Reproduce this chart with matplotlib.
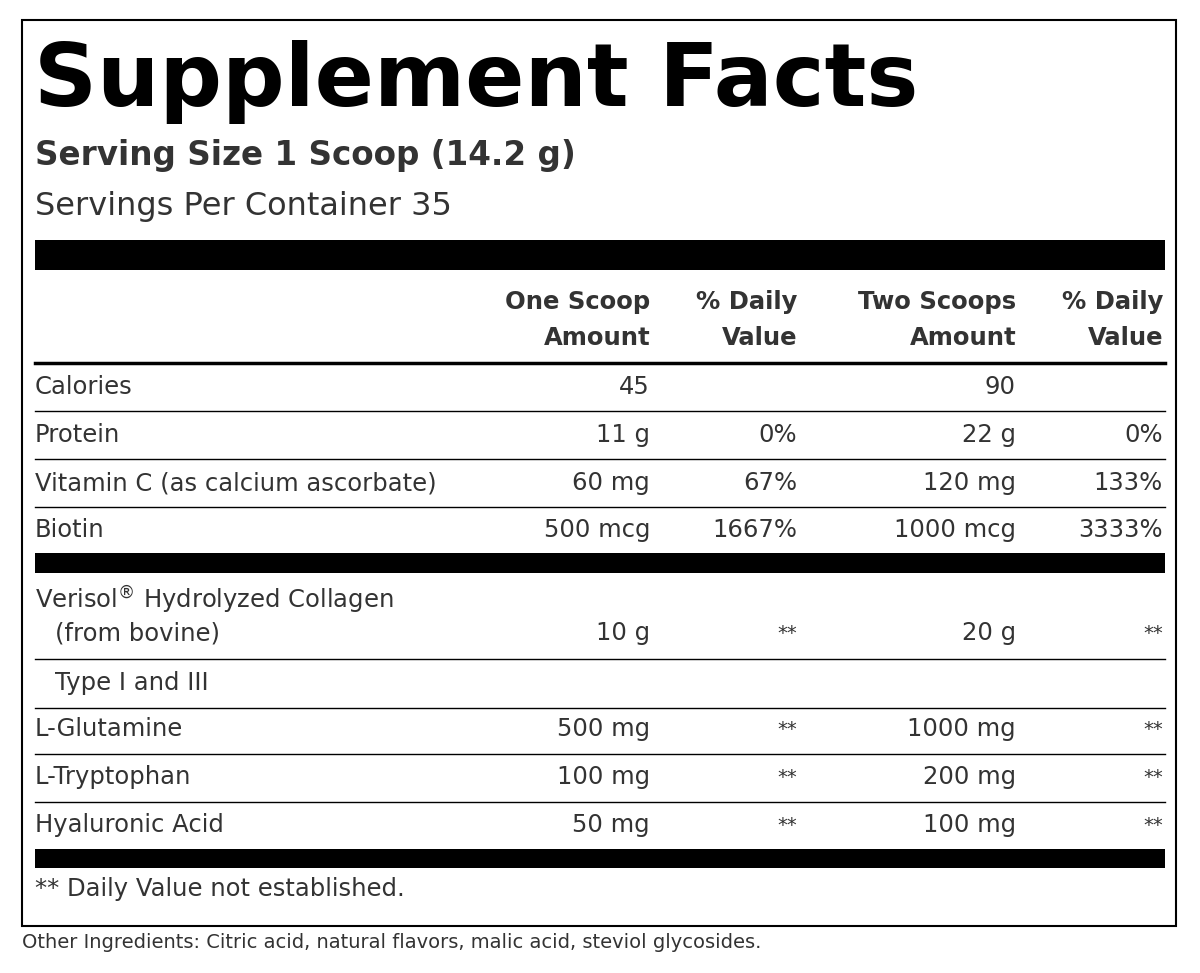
import matplotlib
matplotlib.use("Agg")
import matplotlib.pyplot as plt
from matplotlib.patches import Rectangle

title = "Supplement Facts"
serving_size = "Serving Size 1 Scoop (14.2 g)"
servings = "Servings Per Container 35"
headers = [("One Scoop", "Amount"), ("% Daily", "Value"), ("Two Scoops", "Amount"), ("% Daily", "Value")]
group1_names = ["Calories", "Protein", "Vitamin C (as calcium ascorbate)", "Biotin"]
group1_one = ["45", "11 g", "60 mg", "500 mcg"]
group1_dv1 = ["", "0%", "67%", "1667%"]
group1_two = ["90", "22 g", "120 mg", "1000 mcg"]
group1_dv2 = ["", "0%", "133%", "3333%"]
group2_names = ["(from bovine)", "Type I and III", "L-Glutamine", "L-Tryptophan", "Hyaluronic Acid"]
group2_one = ["10 g", "", "500 mg", "100 mg", "50 mg"]
group2_dv1 = ["**", "", "**", "**", "**"]
group2_two = ["20 g", "", "1000 mg", "200 mg", "100 mg"]
group2_dv2 = ["**", "", "**", "**", "**"]
footnote = "** Daily Value not established."
other = "Other Ingredients: Citric acid, natural flavors, malic acid, steviol glycosides."

plt.rcParams['font.family'] = ['DejaVu Sans']
fig = plt.figure(figsize=(12, 9.73), dpi=100)
ax = fig.add_axes([0, 0, 1, 1])
ax.set_xlim(0, 1200); ax.set_ylim(973, 0); ax.axis('off')
C = '#333333'
fs = 17.5

ax.add_patch(Rectangle((22, 20), 1154, 906, fill=False, lw=1.5, ec='black'))
ax.text(34, 82, title, fontsize=63, weight='bold', color='black', va='center', ha='left')
ax.text(35, 155, serving_size, fontsize=23.5, weight='bold', color=C, va='center')
ax.text(35, 207, servings, fontsize=23, color=C, va='center')

def bar(y0, y1):
    ax.add_patch(Rectangle((35, y0), 1130, y1 - y0, color='black', lw=0))
def hline(y, lw=1.0):
    ax.plot([35, 1165], [y, y], color='black', lw=lw)

bar(240, 270)
cols = [650, 797, 1016, 1163]
for x, (a, b) in zip(cols, headers):
    ax.text(x, 302, a, fontsize=fs, weight='bold', color=C, ha='right', va='center')
    ax.text(x, 338, b, fontsize=fs, weight='bold', color=C, ha='right', va='center')
hline(363, 2.5)

def row(y, name, vals, indent=35):
    ax.text(indent, y, name, fontsize=fs, color=C, va='center')
    for x, v in zip(cols, vals):
        ax.text(x, y, v, fontsize=fs if v != "**" else 14, color=C, ha='right', va='center')

ys1 = [387, 435, 483, 530]
for i, y in enumerate(ys1):
    row(y, group1_names[i], [group1_one[i], group1_dv1[i], group1_two[i], group1_dv2[i]])
    if i < 3:
        hline(y + 24)
bar(553, 573)

ax.text(35, 600, "Verisol$^{\\circledR}$ Hydrolyzed Collagen", fontsize=fs, color=C, va='center')
ys2 = [633, 683, 729, 777, 825]
for i, y in enumerate(ys2):
    row(y, group2_names[i], [group2_one[i], group2_dv1[i], group2_two[i], group2_dv2[i]],
        indent=55 if i < 2 else 35)
    if i < 4:
        hline(y + 26 if i == 0 else y + 25)
bar(849, 868)
ax.text(35, 889, footnote, fontsize=fs, color=C, va='center')
ax.text(22, 943, other, fontsize=14, color=C, va='center')
fig.savefig("out.png", dpi=100)
